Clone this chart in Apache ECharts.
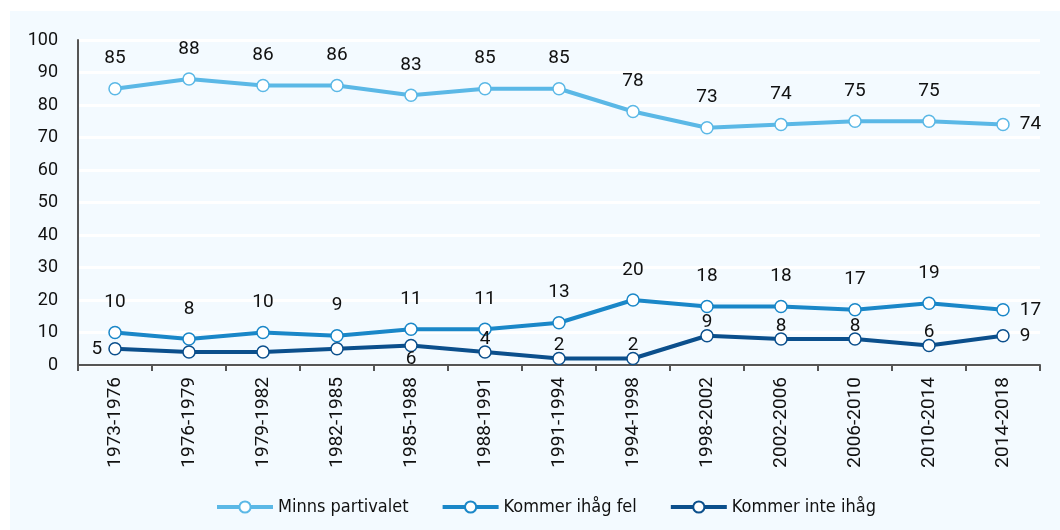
<!DOCTYPE html>
<html>
<head>
<meta charset="utf-8">
<script src="https://cdn.jsdelivr.net/npm/echarts@6/dist/echarts.min.js"></script>
<style>
  html, body { margin: 0; padding: 0; background: #fff; }
  #chart { width: 1060px; height: 530px; }
</style>
</head>
<body>
<div id="chart"></div>
<script>
const periods = ["1973-1976", "1976-1979", "1979-1982", "1982-1985", "1985-1988", "1988-1991",
  "1991-1994", "1994-1998", "1998-2002", "2002-2006", "2006-2010", "2010-2014", "2014-2018"];
const minnsPartivalet = [85, 88, 86, 86, 83, 85, 85, 78, 73, 74, 75, 75, 74];
const kommerIhagFel = [10, 8, 10, 9, 11, 11, 13, 20, 18, 18, 17, 19, 17];
const kommerInteIhag = [5, 4, 4, 5, 6, 4, 2, 2, 9, 8, 8, 6, 9];
const yTicks = [0, 10, 20, 30, 40, 50, 60, 70, 80, 90, 100];

const font = "Roboto, 'Open Sans', sans-serif";
const narrowFont = "'Liberation Sans Narrow', 'DejaVu Sans Condensed', Roboto, sans-serif";

// label placement per point: default above, last point to the right
function withLabels(values, special) {
  return values.map((v, i) => {
    const item = { value: v };
    if (i === values.length - 1) {
      item.label = { position: "right", distance: 10 };
    } else if (special && special[i]) {
      item.label = special[i];
    }
    return item;
  });
}

function lineSeries(name, color, values, dist, special) {
  return {
    name,
    type: "line",
    data: withLabels(values, special),
    symbol: "circle",
    symbolSize: 12,
    lineStyle: { color, width: 4 },
    itemStyle: { color: "#fff", borderColor: color, borderWidth: 1.5 },
    label: {
      show: true, position: "top", distance: dist,
      color: "#111", fontSize: 19, fontFamily: font,
    },
    labelLayout: { hideOverlap: false },
    emphasis: { disabled: true },
    z: 3,
  };
}

const chart = echarts.init(document.getElementById("chart"), null, { renderer: "canvas" });
chart.setOption({
  animation: false,
  backgroundColor: "#fff",
  color: ["#5bb8e6", "#1a87c8", "#0b4f8c"],
  graphic: [{
    type: "rect", left: 10, top: 11, z: -10,
    shape: { width: 1050, height: 519 },
    style: { fill: "#f3faff" },
  }],
  grid: { left: 78, right: 20, top: 40, bottom: 165 },
  legend: {
    left: 210, top: 493,
    itemWidth: 56, itemHeight: 14, itemGap: 32,
    lineStyle: { width: 4 },
    textStyle: { color: "#111", fontSize: 18, fontFamily: narrowFont },
    data: ["Minns partivalet", "Kommer ihåg fel", "Kommer inte ihåg"],
  },
  xAxis: {
    type: "category",
    data: periods,
    axisLine: { lineStyle: { color: "#555", width: 2 } },
    axisTick: { show: true, length: 6, lineStyle: { color: "#555", width: 2 } },
    axisLabel: { rotate: 90, color: "#111", fontSize: 19, fontFamily: font, margin: 12, interval: 0 },
  },
  yAxis: {
    type: "value",
    min: yTicks[0], max: yTicks[yTicks.length - 1], interval: 10,
    axisLine: { show: true, lineStyle: { color: "#555", width: 2 } },
    axisTick: { show: false },
    axisLabel: { color: "#111", fontSize: 18, fontFamily: font, margin: 20 },
    splitLine: { lineStyle: { color: "#fff", width: 3 } },
  },
  series: [
    lineSeries("Minns partivalet", "#5bb8e6", minnsPartivalet, 14),
    lineSeries("Kommer ihåg fel", "#1a87c8", kommerIhagFel, 14),
    lineSeries("Kommer inte ihåg", "#0b4f8c", kommerInteIhag, -3, {
      0: { position: "left", distance: 6 },
      1: { show: false },
      2: { show: false },
      3: { show: false },
      4: { position: "bottom", distance: -3 },
    }),
  ],
});
</script>
</body>
</html>
